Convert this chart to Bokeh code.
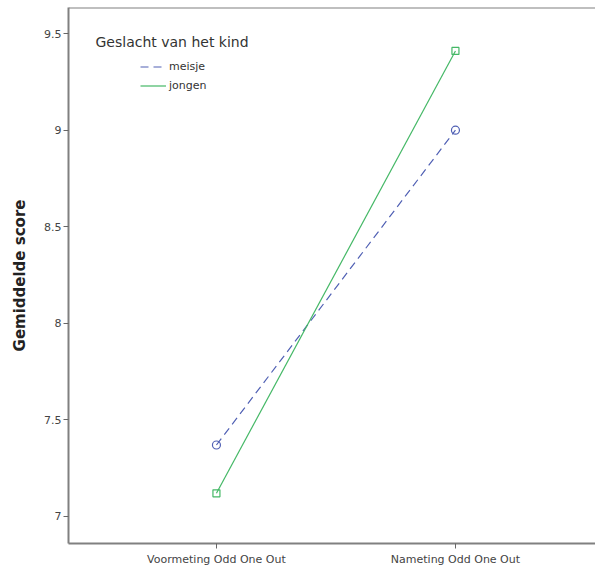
from bokeh.plotting import figure
from bokeh.models import FixedTicker, Legend, LegendItem, Label, Range1d, Span
from bokeh.embed import file_html
from bokeh.resources import INLINE

categories = ["Voormeting Odd One Out", "Nameting Odd One Out"]
x_pos = [1, 2]
meisje = [7.37, 9.00]
jongen = [7.12, 9.41]
y_ticks = [7, 7.5, 8, 8.5, 9, 9.5]
y_tick_labels = ["7", "7.5", "8", "8.5", "9", "9.5"]
series_names = ["meisje", "jongen"]
legend_title = "Geslacht van het kind"
y_label = "Gemiddelde score"

BLUE = "#5060b4"
GREEN = "#44b866"
GRAY = "#808080"
FONT = "DejaVu Sans"
Y_TOP = 9.635

p = figure(width=595, height=571, output_backend="svg", toolbar_location=None,
           x_range=Range1d(0.381, 2.586), y_range=Range1d(6.86, Y_TOP),
           min_border_left=68, min_border_right=0, min_border_top=7, min_border_bottom=28)
p.grid.visible = False
p.background_fill_color = "white"
p.border_fill_color = "white"
p.outline_line_color = None
p.add_layout(Span(location=Y_TOP, dimension="width", line_color=GRAY, line_width=2))

p.xaxis.ticker = FixedTicker(ticks=x_pos)
p.xaxis.major_label_overrides = {x: c for x, c in zip(x_pos, categories)}
p.yaxis.ticker = FixedTicker(ticks=y_ticks)
p.yaxis.major_label_overrides = {t: l for t, l in zip(y_ticks, y_tick_labels)}
for ax in (p.xaxis, p.yaxis):
    ax.axis_line_color = GRAY
    ax.axis_line_width = 2
    ax.major_tick_line_color = "#666666"
    ax.major_tick_out = 5
    ax.major_tick_in = 0
    ax.minor_tick_line_color = None
    ax.major_label_text_font = FONT
    ax.major_label_text_font_size = "11px"
    ax.major_label_text_color = "#444444"
p.xaxis.major_label_standoff = 4
p.yaxis.major_label_standoff = 2
p.yaxis.axis_label = y_label
p.yaxis.axis_label_text_font = FONT
p.yaxis.axis_label_text_font_size = "15px"
p.yaxis.axis_label_text_font_style = "bold"
p.yaxis.axis_label_text_color = "#222222"
p.yaxis.axis_label_standoff = 12

l1 = p.line(x_pos, meisje, line_color=BLUE, line_width=1.2, line_dash="8 5")
p.scatter(x_pos, meisje, marker="circle", size=8, fill_color=None, line_color=BLUE, line_width=1.2)
l2 = p.line(x_pos, jongen, line_color=GREEN, line_width=1.2)
p.scatter(x_pos, jongen, marker="square", size=7, fill_color=None, line_color=GREEN, line_width=1.2)

legend = Legend(items=[LegendItem(label=series_names[0], renderers=[l1]),
                       LegendItem(label=series_names[1], renderers=[l2])],
                border_line_color=None, background_fill_alpha=0,
                label_text_font=FONT, label_text_font_size="11px", label_text_color="#333333",
                glyph_width=26, glyph_height=19, label_height=19, spacing=0,
                padding=0, margin=0, label_standoff=3)
legend.location = (72, 448)
p.add_layout(legend)
p.add_layout(Label(x=27, y=502, x_units="screen", y_units="screen", text=legend_title,
                   text_font=FONT, text_font_size="14px", text_color="#333333",
                   text_baseline="middle"))

open("out.html", "w").write(file_html(p, INLINE))
